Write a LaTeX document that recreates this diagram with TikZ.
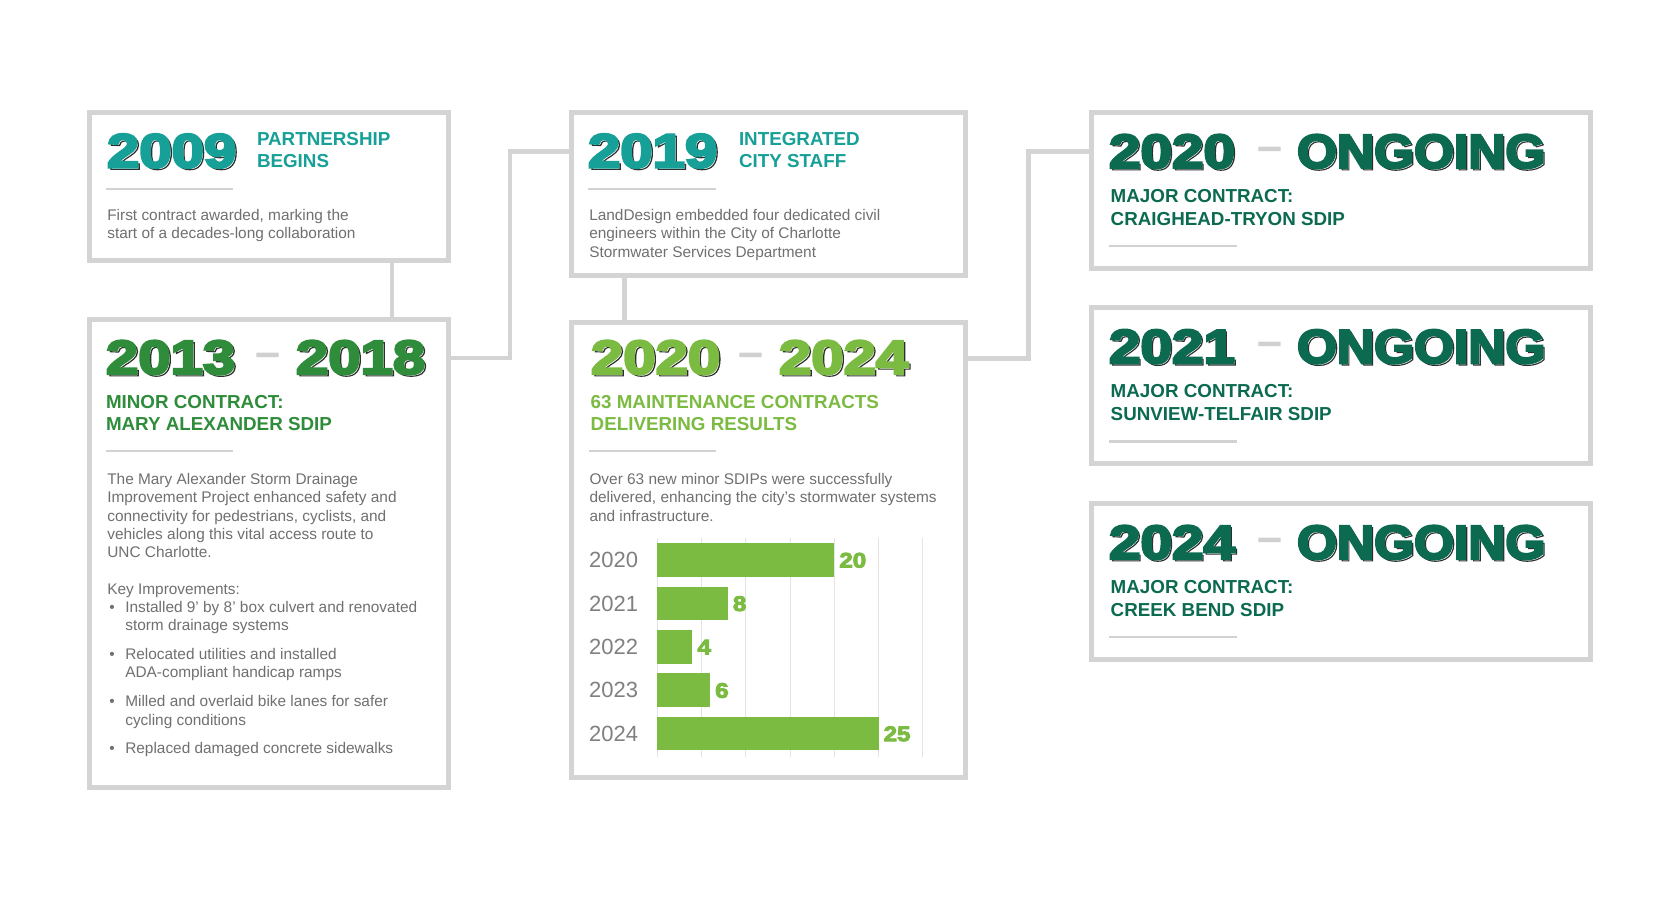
\documentclass[tikz,border=0pt]{standalone}
\usepackage{fontspec}
\setmainfont{Liberation Sans}
\usepackage{graphicx}
\definecolor{cTeal}{HTML}{16A097}
\definecolor{cForest}{HTML}{2E8C3A}
\definecolor{cLime}{HTML}{7CBB42}
\definecolor{cDark}{HTML}{0B6A50}
\definecolor{cFrame}{HTML}{D4D4D4}
\definecolor{cRule}{HTML}{D2D2D2}
\definecolor{cBody}{HTML}{707070}
\definecolor{cGrid}{HTML}{E4E4E4}
\definecolor{cDash}{HTML}{D0D0D0}
\definecolor{cAxis}{HTML}{808080}
% outlined year text: shadow copy (white fill, dark outline) and front copy (filled, emboldened)
\newcommand\yrback[2][1.21]{\scalebox{#1}[1]{\color{white}\special{pdf:literal direct 2 Tr 1.1 w 0.18 0.18 0.18 RG}#2\special{pdf:literal direct 0 Tr}}}
\newcommand\yrfront[3][1.21]{\scalebox{#1}[1]{\color{#2}\special{pdf:literal direct 2 Tr 2.2 w}#3\special{pdf:literal direct 0 Tr}}}
\newcommand\heavy[2]{\scalebox{1.15}[1]{\color{#1}\special{pdf:literal direct 2 Tr 0.9 w}#2\special{pdf:literal direct 0 Tr}}}
\newcommand\lns[1]{\begin{tabular}[t]{@{}l@{}}#1\end{tabular}}
\newcommand\bul{\makebox[18pt][l]{\hspace{2pt}•}}
\begin{document}
\begin{tikzpicture}[x=1pt,y=-1pt,
  panel/.style={draw=cFrame, line width=5pt, inner sep=0pt, outer sep=0pt, anchor=north west},
  link/.style={draw=cFrame, line width=4.6pt},
  rulel/.style={draw=cRule, line width=2.6pt},
  year/.style={inner sep=0pt, outer sep=0pt, anchor=base west, font=\fontsize{48}{50}\selectfont\bfseries},
  yshadow/.style={year, xshift=2.1pt, yshift=-1.8pt},
  dashn/.style={inner sep=0pt, outer sep=0pt, anchor=north west, text=cDash, font=\fontsize{45}{45}\selectfont\bfseries},
  head/.style={inner sep=0pt, outer sep=0pt, anchor=base west, font=\fontsize{18.8}{22.8}\selectfont\bfseries},
  bodyt/.style={inner sep=0pt, outer sep=0pt, anchor=base west, text=cBody, font=\fontsize{15.4}{18.3}\selectfont},
  ylab/.style={inner sep=0pt, outer sep=0pt, anchor=base east, text=cAxis, font=\fontsize{22}{24}\selectfont},
  vlab/.style={inner sep=0pt, outer sep=0pt, anchor=base west, font=\fontsize{21}{23}\selectfont\bfseries},
  bar/.style={fill=cLime},
  gridl/.style={draw=cGrid, line width=1pt}
]
\fill[white] (0,0) rectangle (1680,900);
\useasboundingbox (0,0) rectangle (1680,900);

% ---------- panels ----------
\node[panel, minimum width=358.5pt, minimum height=147.8pt] (p1) at (89.8,112.7) {};
\node[panel, minimum width=358.5pt, minimum height=468pt] (p2) at (89.8,319) {};
\node[panel, minimum width=393.5pt, minimum height=163pt] (p3) at (571.5,112.7) {};
\node[panel, minimum width=393.5pt, minimum height=455pt] (p4) at (571.5,322.5) {};
\node[panel, minimum width=498.8pt, minimum height=155.8pt] (p5) at (1091.7,112.7) {};
\node[panel, minimum width=498.8pt, minimum height=155.8pt] (p6) at (1091.7,307.9) {};
\node[panel, minimum width=498.8pt, minimum height=155.8pt] (p7) at (1091.7,503.7) {};

% ---------- connectors ----------
\coordinate (b1) at (392,290);
\coordinate (b2a) at (510,358);
\coordinate (b2) at (510,151.2);
\coordinate (b3) at (624.5,300);
\coordinate (b4a) at (1028.3,358.5);
\coordinate (b4) at (1028.3,151.5);
\draw[link] (b1 |- p1.south) -- (b1 |- p2.north);
\draw[link] (p2.east |- b2a) -- (b2a) -- (b2) -- (p3.west |- b2);
\draw[link] (b3 |- p3.south) -- (b3 |- p4.north);
\draw[link] (p4.east |- b4a) -- (b4a) -- (b4) -- (p5.west |- b4);

% ---------- 2009 ----------
\node[yshadow] (y1s) at (107,167.5) {\yrback{2009}};
\node[year] (y1) at (107,167.5) {\yrfront{cTeal}{2009}};
\node[head, text=cTeal] (h1) at (257,145) {\lns{PARTNERSHIP\\BEGINS}};
\draw[rulel] (106,189) -- (233,189);
\node[bodyt] (t1) at (107.3,220.5) {\lns{First contract awarded, marking the\\start of a decades-long collaboration}};

% ---------- 2019 ----------
\node[yshadow] (y3s) at (588,167.5) {\yrback{2019}};
\node[year] (y3) at (588,167.5) {\yrfront{cTeal}{2019}};
\node[head, text=cTeal] (h3) at (739,145) {\lns{INTEGRATED\\CITY STAFF}};
\draw[rulel] (588,189) -- (716,189);
\node[bodyt] (t3) at (589.3,220.5) {\lns{LandDesign embedded four dedicated civil\\engineers within the City of Charlotte\\Stormwater Services Department}};

% ---------- 2013 - 2018 ----------
\node[yshadow] (y2as) at (106,374) {\yrback{2013}};
\node[year] (y2a) at (106,374) {\yrfront{cForest}{2013}};
\node[dashn] (d2) at (255,353.5) {–};
\node[yshadow] (y2bs) at (296,374) {\yrback{2018}};
\node[year] (y2b) at (296,374) {\yrfront{cForest}{2018}};
\node[head, text=cForest] (h2) at (106,408) {\lns{MINOR CONTRACT:\\MARY ALEXANDER SDIP}};
\draw[rulel] (106,451) -- (233,451);
\node[bodyt] (t2) at (107.3,484.5) {\lns{The Mary Alexander Storm Drainage\\
Improvement Project enhanced safety and\\
connectivity for pedestrians, cyclists, and\\
vehicles along this vital access route to\\
UNC Charlotte.\\[18pt]
Key Improvements:\\
\bul Installed 9’ by 8’ box culvert and renovated\\
\hspace*{18pt}storm drainage systems\\[10.6pt]
\bul Relocated utilities and installed\\
\hspace*{18pt}ADA-compliant handicap ramps\\[10.6pt]
\bul Milled and overlaid bike lanes for safer\\
\hspace*{18pt}cycling conditions\\[10.6pt]
\bul Replaced damaged concrete sidewalks}};

% ---------- 2020 - 2024 ----------
\node[yshadow] (y4as) at (591,374) {\yrback{2020}};
\node[year] (y4a) at (591,374) {\yrfront{cLime}{2020}};
\node[dashn] (d4) at (738,353.5) {–};
\node[yshadow] (y4bs) at (779,374) {\yrback{2024}};
\node[year] (y4b) at (779,374) {\yrfront{cLime}{2024}};
\node[head, text=cLime] (h4) at (590.7,408) {\lns{63 MAINTENANCE CONTRACTS\\DELIVERING RESULTS}};
\draw[rulel] (589,451) -- (716,451);
\node[bodyt] (t4) at (589.5,484.5) {\lns{Over 63 new minor SDIPs were successfully\\delivered, enhancing the city’s stormwater systems\\and infrastructure.}};

% chart
\foreach \k in {0,...,6} \draw[gridl] (657+44.33*\k,538) -- (657+44.33*\k,757);
\foreach \i/\yy/\v in {0/2020/20,1/2021/8,2/2022/4,3/2023/6,4/2024/25}{
  \fill[bar] (657,543.2+43.4*\i) rectangle (657+8.867*\v,576.8+43.4*\i);
  \node[ylab] (yl\i) at (638,567.7+43.4*\i) {\yy};
  \node[vlab] (vl\i) at (662+8.867*\v,567.5+43.4*\i) {\heavy{cLime}{\v}};
}

% ---------- right column ----------
\foreach \i/\dy/\yy/\nm in {5/0/2020/CRAIGHEAD-TRYON SDIP,6/195.2/2021/SUNVIEW-TELFAIR SDIP,7/391/2024/CREEK BEND SDIP}{
  \node[yshadow, xshift=-0.3pt] (yas\i) at (1109,168+\dy) {\yrback[1.18]{\yy}};
  \node[year] (ya\i) at (1109,168+\dy) {\yrfront[1.18]{cDark}{\yy}};
  \node[dashn] (dd\i) at (1257,147.2+\dy) {–};
  \node[yshadow, xshift=-0.2pt] (ybs\i) at (1297,168+\dy) {\yrback[1.07]{ONGOING}};
  \node[year] (yb\i) at (1297,168+\dy) {\yrfront[1.07]{cDark}{ONGOING}};
  \node[head, text=cDark] (hh\i) at (1110.7,202.5+\dy) {\lns{MAJOR CONTRACT:\\\nm}};
  \draw[rulel] (1109,246+\dy) -- (1237,246+\dy);
}
\end{tikzpicture}
\end{document}
